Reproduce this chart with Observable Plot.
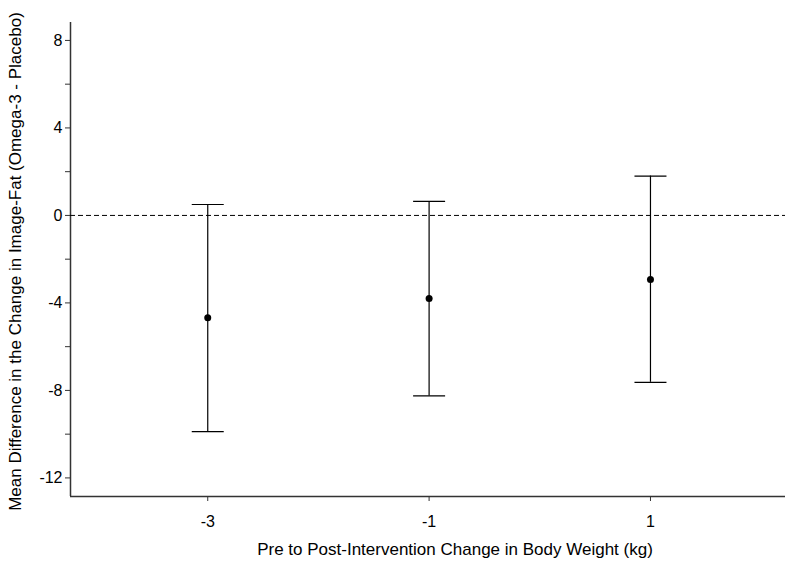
<!DOCTYPE html>
<html><head><meta charset="utf-8">
<script src="https://cdn.jsdelivr.net/npm/d3@7"></script>
<script src="https://cdn.jsdelivr.net/npm/@observablehq/plot@0.6"></script>
<style>body{margin:0;background:#fff;} svg{font-family:"Liberation Sans",Arial,sans-serif;}</style>
</head><body><div id="chart"></div>
<script>
const weightChange = [-3, -1, 1];
const meanDiff = [-4.68, -3.80, -2.93];
const lowerCI = [-9.88, -8.25, -7.63];
const upperCI = [0.50, 0.64, 1.80];
const yMajorTicks = [-12, -8, -4, 0, 4, 8];
const yMinorTicks = [-10, -6, -2, 2, 6];
const xTicks = [-3, -1, 1];
const xDomain = [-4.24, 2.22];
const yDomain = [-12.85, 8.82];
const xLabel = "Pre to Post-Intervention Change in Body Weight (kg)";
const yLabel = "Mean Difference in the Change in Image-Fat (Omega-3 - Placebo)";

const data = weightChange.map((w, i) => ({w, m: meanDiff[i], lo: lowerCI[i], hi: upperCI[i]}));

const capSymbol = {draw(ctx) { ctx.moveTo(-16, 0); ctx.lineTo(16, 0); }};
const axisColor = "#333";

const chart = Plot.plot({
  width: 795, height: 573,
  marginLeft: 70, marginRight: 10, marginTop: 22, marginBottom: 77,
  style: {fontSize: "16px", fontFamily: "'Liberation Sans', Arial, sans-serif", color: "#000"},
  x: {domain: xDomain},
  y: {domain: yDomain},
  marks: [
    Plot.axisY({ticks: yMajorTicks, tickSize: 5, tickPadding: 3, stroke: axisColor, fontSize: 16,
      label: null, tickFormat: d => String(d)}),
    Plot.axisY({ticks: yMinorTicks, tickSize: 5, stroke: axisColor, tickFormat: () => "", label: null}),
    Plot.axisX({ticks: xTicks, tickSize: 5, tickPadding: 14, stroke: axisColor, fontSize: 16,
      label: null, tickFormat: d => String(d)}),
    Plot.text([xLabel], {text: d => d, frameAnchor: "bottom", dx: 27, dy: 58, fontSize: 17, fill: "#000"}),
    Plot.text([yLabel], {text: d => d, frameAnchor: "left", textAnchor: "middle", dx: -55, dy: 2, rotate: -90, fontSize: 17, fill: "#000"}),
    Plot.ruleX([xDomain[0]], {y1: yDomain[0], y2: yDomain[1], stroke: axisColor, strokeWidth: 1.5}),
    Plot.ruleY([yDomain[0]], {x1: xDomain[0], x2: xDomain[1], stroke: axisColor, strokeWidth: 1.5}),
    Plot.ruleY([0], {x1: xDomain[0], x2: xDomain[1], stroke: "#000", strokeDasharray: "5,3"}),
    Plot.ruleX(data, {x: "w", y1: "lo", y2: "hi", stroke: "#000", strokeWidth: 1.2}),
    Plot.dot(data, {x: "w", y: "hi", symbol: capSymbol, stroke: "#000", strokeWidth: 1.2, fill: "none"}),
    Plot.dot(data, {x: "w", y: "lo", symbol: capSymbol, stroke: "#000", strokeWidth: 1.2, fill: "none"}),
    Plot.dot(data, {x: "w", y: "m", r: 3.5, fill: "#000", stroke: "none"})
  ]
});
document.getElementById("chart").append(chart);
</script>
</body></html>
